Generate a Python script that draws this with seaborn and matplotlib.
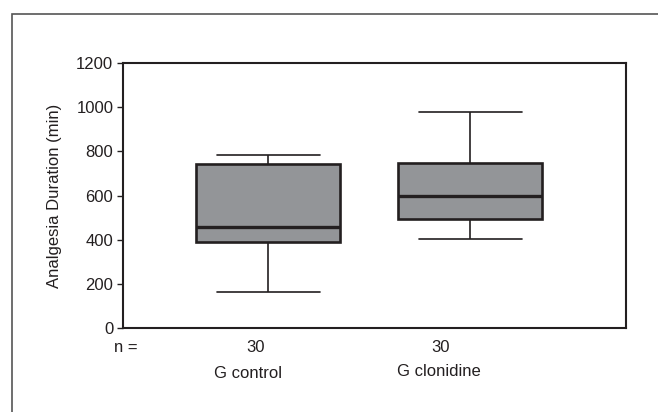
import matplotlib
matplotlib.use("Agg")
import matplotlib.pyplot as plt
import seaborn as sns
import pandas as pd
from matplotlib.patches import Rectangle

groups = ["G control", "G clonidine"]
counts = [30, 30]
mins = [165, 403]
q1s = [391, 492]
medians = [457, 596]
q3s = [743, 746]
maxs = [785, 980]
yticks = [0, 200, 400, 600, 800, 1000, 1200]

rows = []
for g, a, b, c, d, e in zip(groups, mins, q1s, medians, q3s, maxs):
    for v in (a, b, c, d, e):
        rows.append({"group": g, "value": v})
df = pd.DataFrame(rows)

sns.set_theme(style="white")
plt.rcParams["font.family"] = ["Liberation Sans", "DejaVu Sans"]

W, H = 658, 412
FS = 12
fig = plt.figure(figsize=(W / 100, H / 100), dpi=100)
ax = fig.add_axes([123 / W, 1 - 328 / H, (626 - 123) / W, (328 - 63) / H])
dark = "#231f20"
fill = "#939598"

sns.boxplot(data=df, x="group", y="value", order=groups, ax=ax,
            whis=(0, 100), width=0.71, color=fill, saturation=1,
            linecolor=dark, linewidth=1.2,
            boxprops=dict(linewidth=1.9, edgecolor=dark),
            medianprops=dict(linewidth=2.4, color=dark),
            capwidths=0.51)

ax.set_xlim(-0.718, 1.772)
ax.set_ylim(0, 1200)
ax.set_yticks(yticks)
ax.set_yticklabels([str(t) for t in yticks], fontsize=FS, color=dark)
ax.set_xticks([])
ax.set_xlabel("")
ax.set_ylabel("Analgesia Duration (min)", fontsize=FS, color=dark, labelpad=10)
ax.tick_params(axis="y", which="both", left=True, direction="out", length=4,
               width=1, color=dark, pad=3)
for s in ax.spines.values():
    s.set_color(dark)
    s.set_linewidth(1.5)
    s.set_visible(True)

def fx(x):
    return x / W

def fy(y):
    return 1 - y / H

fig.text(fx(126), fy(348), "n =", ha="center", va="center", fontsize=FS, color=dark)
n_x = [256, 441]
g_pos = [(248, 374), (439, 371)]
for c, x in zip(counts, n_x):
    fig.text(fx(x), fy(347), str(c), ha="center", va="center", fontsize=FS, color=dark)
for g, (x, y) in zip(groups, g_pos):
    fig.text(fx(x), fy(y), g, ha="center", va="center", fontsize=FS, color=dark)

fig.patches.append(Rectangle((12 / W, -0.1), 1.2, fy(14) + 0.1, transform=fig.transFigure,
                             fill=False, edgecolor="#555555", linewidth=1.2))

fig.savefig("out.png", dpi=100)
